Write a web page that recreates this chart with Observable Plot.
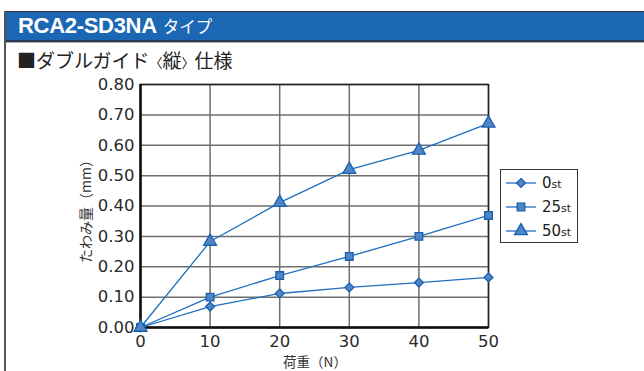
<!DOCTYPE html>
<html>
<head>
<meta charset="utf-8">
<script src="https://cdn.jsdelivr.net/npm/d3@7"></script>
<script src="https://cdn.jsdelivr.net/npm/@observablehq/plot@0.6"></script>
<style>
  html, body { margin: 0; padding: 0; background: #fff; }
  #wrap { position: relative; width: 644px; height: 371px; overflow: hidden; font-family: "DejaVu Sans", sans-serif; }
  #border { position: absolute; left: 4px; top: 11px; width: 2px; height: 370px; background: #555; }
  #header { position: absolute; left: 4px; top: 11px; width: 640px; height: 28px; background: #1b67b3;
            border-top: 1px solid #333; border-bottom: 2px solid #2a3a50; }
  #header2 { position: absolute; left: 4px; top: 42px; width: 640px; height: 1px; background: #aaa; }
  #title { position: absolute; left: 18px; top: 11px; color: #fff; font-size: 22px; line-height: 30px; white-space: nowrap; }
  #title b { font-family: "Liberation Sans", sans-serif; font-weight: bold; letter-spacing: -0.3px; }
  #title span { font-family: "Noto Sans CJK JP", sans-serif; font-size: 16.5px; margin-left: 6px; }
  #subtitle { position: absolute; left: 17px; top: 49px; font-family: "Noto Sans CJK JP", sans-serif; font-size: 19px; color: #222; white-space: nowrap; line-height: 22px; }
  #subtitle .b { font-size: 13px; }
  #chart { position: absolute; left: 0; top: 0; }
  #legend { position: absolute; left: 500px; top: 169px; width: 76px; height: 72px; border: 1.5px solid #333; background: #fff; }
  .li { position: absolute; left: 5px; height: 20px; display: flex; align-items: center; }
  .li svg { display: block; }
  .li .lab { font-family: "DejaVu Sans", sans-serif; font-size: 15px; color: #222; position: absolute; left: 36px; white-space: nowrap; }
  .li .lab small { font-size: 11px; }
  #ylab { position: absolute; left: 85px; top: 208px; transform: translate(-50%, -50%) rotate(-90deg); font-family: "Noto Sans CJK JP", sans-serif; font-size: 14px; line-height: 16px; color: #333; white-space: nowrap; }
  #xlab { position: absolute; left: 315px; top: 361px; transform: translate(-50%, -50%); font-family: "Noto Sans CJK JP", sans-serif; font-size: 13.5px; line-height: 16px; color: #333; white-space: nowrap; }
</style>
</head>
<body>
<div id="wrap">
  <div id="header"></div>
  <div id="header2"></div>
  <div id="border"></div>
  <div id="title"><b>RCA2-SD3NA</b><span>タイプ</span></div>
  <div id="subtitle">■ダブルガイド<span class="b">〈</span>縦<span class="b">〉</span>仕様</div>
  <div id="chart"></div>
  <div id="ylab">たわみ量（mm）</div>
  <div id="xlab">荷重（N）</div>
  <div id="legend"></div>
</div>
<script>
const loads = [0, 10, 20, 30, 40, 50];
const st0 = [0, 0.069, 0.112, 0.132, 0.148, 0.165];
const st25 = [0, 0.100, 0.171, 0.234, 0.300, 0.369];
const st50 = [0, 0.283, 0.411, 0.520, 0.583, 0.672];
const seriesNames = ["0st", "25st", "50st"];
const seriesSymbols = ["diamond2", "square", "triangle"];
const xTicks = [0, 10, 20, 30, 40, 50];
const yTicks = [0, 0.1, 0.2, 0.3, 0.4, 0.5, 0.6, 0.7, 0.8];

const lineColor = "#1f6fc0";
const fillColor = "#4f86c6";
const strokeColor = "#1a5fae";

const seriesValues = [st0, st25, st50];
const rows = [];
seriesNames.forEach((name, i) => {
  loads.forEach((x, j) => rows.push({series: name, x, y: seriesValues[i][j], symbol: seriesSymbols[i]}));
});

const chart = Plot.plot({
  width: 644,
  height: 371,
  marginLeft: 140,
  marginRight: 156,
  marginTop: 84,
  marginBottom: 44,
  style: {fontFamily: "DejaVu Sans, sans-serif", fontSize: "16.5px", color: "#2a2a2a", background: "transparent"},
  x: {domain: [0, 50], ticks: xTicks, tickSize: 0, tickPadding: 8, label: null},
  y: {domain: [0, 0.8], ticks: yTicks, tickSize: 0, tickPadding: 6, tickFormat: d3.format(".2f"), label: null},
  symbol: {domain: seriesSymbols, range: seriesSymbols},
  marks: [
    Plot.gridX(xTicks, {stroke: "#6e6e6e", strokeOpacity: 1, strokeWidth: 1.5}),
    Plot.gridY(yTicks, {stroke: "#6e6e6e", strokeOpacity: 1, strokeWidth: 1.5}),
    Plot.frame({stroke: "#222", strokeWidth: 1.5}),
    Plot.ruleX([0], {stroke: "#111", strokeWidth: 2.5}),
    Plot.ruleY([0], {stroke: "#111", strokeWidth: 2.5}),
    Plot.line(rows, {x: "x", y: "y", z: "series", stroke: lineColor, strokeWidth: 1.3}),
    Plot.dot(rows.filter(d => d.series === "0st"), {x: "x", y: "y", symbol: "symbol", r: 4, fill: fillColor, stroke: strokeColor, strokeWidth: 1.3}),
    Plot.dot(rows.filter(d => d.series === "25st"), {x: "x", y: "y", symbol: "symbol", r: 4.3, fill: fillColor, stroke: strokeColor, strokeWidth: 1.3}),
    Plot.dot(rows.filter(d => d.series === "50st"), {x: "x", y: "y", symbol: "symbol", r: 4.8, fill: fillColor, stroke: strokeColor, strokeWidth: 1.3})
  ]
});
document.getElementById("chart").appendChild(chart);

// legend
const legend = document.getElementById("legend");
const symGen = {diamond2: d3.symbolDiamond2, square: d3.symbolSquare, triangle: d3.symbolTriangle};
const symSize = {diamond2: 50, square: 58, triangle: 72};
seriesNames.forEach((name, i) => {
  const item = document.createElement("div");
  item.className = "li";
  item.style.top = (3 + i * 24) + "px";
  const s = seriesSymbols[i];
  const path = d3.symbol(symGen[s], symSize[s])();
  item.innerHTML = `<svg width="30" height="20"><line x1="0" x2="30" y1="10" y2="10" stroke="${lineColor}" stroke-width="1.3"/>
    <path transform="translate(15,10)" d="${path}" fill="${fillColor}" stroke="${strokeColor}" stroke-width="1.3"/></svg>
    <span class="lab">${name.replace("st", "")}<small>st</small></span>`;
  legend.appendChild(item);
});
</script>
</body>
</html>
